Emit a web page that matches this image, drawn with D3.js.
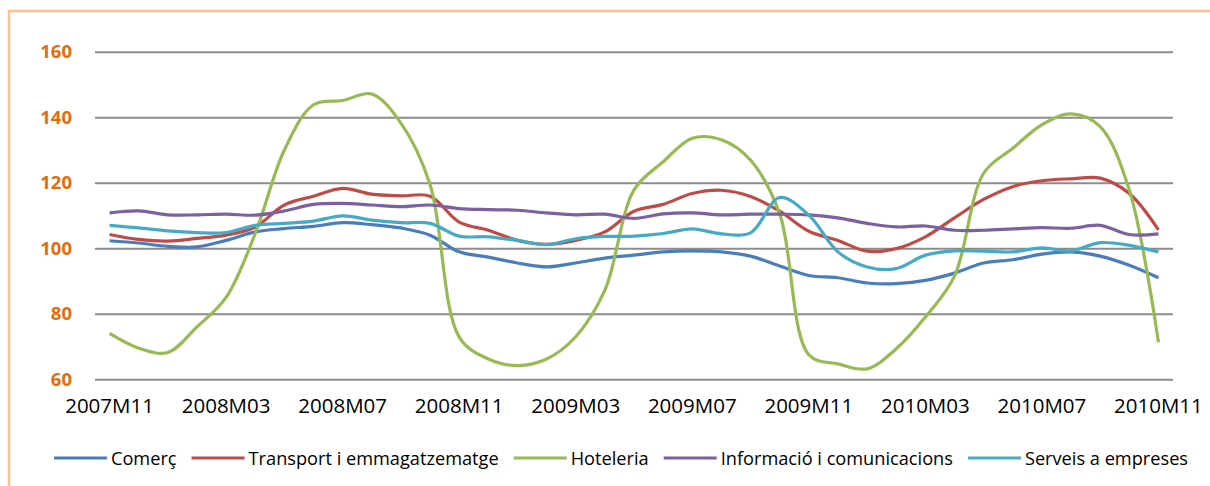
<!DOCTYPE html>
<html>
<head>
<meta charset="utf-8">
<script src="https://cdn.jsdelivr.net/npm/d3@7"></script>
<style>
  body { margin: 0; background: #fff; }
  svg { display: block; }
</style>
</head>
<body>
<svg id="chart" width="1210" height="486"></svg>
<script>
// months 2007M11 .. 2010M11
var months = []
for (var y = 2007, m = 11; months.length < 37; m++) {
    if (m > 12) { m = 1; y++ }
    months.push(y + 'M' + (m < 10 ? '0' + m : m))
}
var tickLabels = ['2007M11', '2008M03', '2008M07', '2008M11', '2009M03', '2009M07', '2009M11', '2010M03', '2010M07', '2010M11']
var yTicks = [60, 80, 100, 120, 140, 160]

var comerc = [102.3, 101.6, 100.6, 100.4, 102.4, 105, 106, 106.7, 107.8, 107.2, 106.2, 104, 98.9, 97.3, 95.5, 94.3, 95.5, 97, 97.9, 98.9, 99.2, 98.9, 97.6, 94.6, 91.7, 91, 89.4, 89.2, 90.2, 92.4, 95.5, 96.5, 98.2, 98.9, 97.6, 94.8, 91]
var transport = [104.2, 102.7, 102.2, 103, 104, 106.5, 113.2, 115.9, 118.3, 116.5, 116, 115.9, 108, 105.5, 102.4, 101.2, 102.4, 105, 111.3, 113.4, 116.7, 117.7, 115.8, 111.3, 105.2, 102.4, 99.1, 99.9, 103.5, 109.3, 114.9, 118.8, 120.6, 121.2, 121.4, 116.7, 105.6]
var hoteleria = [74, 69.5, 68.2, 76, 85, 104.5, 130, 143.8, 145.1, 147.1, 138.2, 119.5, 72.9, 66.2, 64.2, 66.2, 73, 87.2, 117.8, 126.4, 133.6, 133.1, 126.9, 110.5, 67.5, 64.7, 63.2, 69.3, 79, 91.5, 122.9, 130.5, 137.7, 141, 137.1, 117.8, 71.3]
var informacio = [110.8, 111.4, 110.2, 110.2, 110.4, 110.1, 111.4, 113.4, 113.7, 113.2, 112.7, 113.2, 112.1, 111.8, 111.6, 110.8, 110.2, 110.4, 109.1, 110.5, 110.8, 110.2, 110.4, 110.4, 110.2, 109.3, 107.6, 106.5, 106.8, 105.5, 105.5, 105.9, 106.3, 106.1, 107, 104.2, 104.4]
var serveis = [107, 106.2, 105.3, 104.8, 104.8, 107, 107.6, 108.3, 109.9, 108.6, 107.8, 107.6, 103.7, 103.5, 102.4, 101.1, 102.9, 103.6, 103.7, 104.5, 105.9, 104.4, 104.7, 115.5, 110.1, 98.9, 94.3, 93.8, 97.9, 99.2, 99.1, 98.9, 100.1, 99.2, 101.7, 100.9, 98.9]

var seriesNames = ['Comerç', 'Transport i emmagatzematge', 'Hoteleria', 'Informació i comunicacions', 'Serveis a empreses']
var seriesColors = ['#4A7EBB', '#BE4B48', '#98B954', '#7D60A0', '#46AAC5']
var seriesValues = [comerc, transport, hoteleria, informacio, serveis]

var svg = d3.select('#chart')

// chart frame (only top and left edges are visible in the picture)
svg.append('rect')
    .attr('x', 9).attr('y', 11)
    .attr('width', 1240).attr('height', 520)
    .attr('fill', 'none')
    .attr('stroke', '#FAC090')
    .attr('stroke-width', 2.5)

var x = d3.scaleBand().domain(months).range([95, 1173])
var y = d3.scaleLinear().domain([60, 160]).range([379.3, 51.7])
var cx = function(d) { return x(d) + x.bandwidth() / 2 }

// gridlines + y labels
var yAxis = svg.append('g')
    .attr('transform', 'translate(95,0)')
    .call(d3.axisLeft(y).tickValues(yTicks).tickSize(-1078).tickPadding(23))
yAxis.select('.domain').remove()
yAxis.selectAll('.tick line').attr('stroke', '#8C8C8C').attr('stroke-width', 2)
yAxis.selectAll('.tick text')
    .attr('fill', '#E46C0A')
    .attr('font-family', 'Open Sans')
    .attr('font-weight', 'bold')
    .attr('font-size', 18.5)

// x labels
var xAxis = svg.append('g')
    .attr('transform', 'translate(0,379.3)')
    .call(d3.axisBottom(x).tickValues(tickLabels).tickSize(0).tickPadding(19))
xAxis.select('.domain').remove()
xAxis.selectAll('.tick text')
    .attr('fill', '#000')
    .attr('font-family', 'Open Sans')
    .attr('font-size', 20.5)

// lines
var line = d3.line()
    .x(function(d, i) { return cx(months[i]) })
    .y(function(d) { return y(d) })
    .curve(d3.curveCatmullRom)

svg.append('g').selectAll('path')
    .data(seriesValues)
    .enter()
    .append('path')
    .attr('d', line)
    .attr('fill', 'none')
    .attr('stroke', function(d, i) { return seriesColors[i] })
    .attr('stroke-width', 3.2)
    .attr('stroke-linejoin', 'round')

// legend
var legend = svg.append('g')
var lx = 0
seriesNames.forEach(function(name, i) {
    var item = legend.append('g').attr('transform', 'translate(' + lx + ',0)')
    item.append('line')
        .attr('x1', 0).attr('x2', 53)
        .attr('y1', 0).attr('y2', 0)
        .attr('stroke', seriesColors[i])
        .attr('stroke-width', 3.2)
    var t = item.append('text')
        .attr('x', 57).attr('y', 7)
        .attr('font-family', 'Open Sans')
        .attr('font-size', 18.2)
        .attr('fill', '#000')
        .text(name)
    lx += 57 + t.node().getComputedTextLength() + 15
})
lx -= 15
legend.attr('transform', 'translate(' + (621 - lx / 2) + ',458)')
</script>
</body>
</html>
